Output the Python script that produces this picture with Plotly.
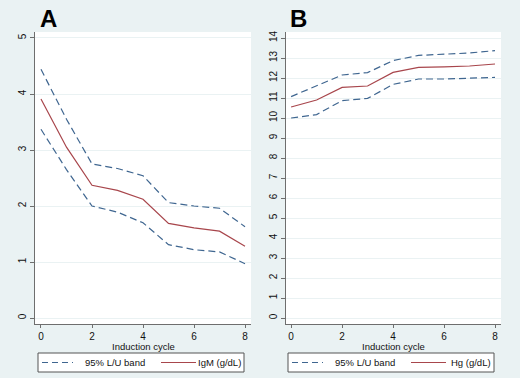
import plotly.graph_objects as go

cycles = [0, 1, 2, 3, 4, 5, 6, 7, 8]

igm_mean = [3.91, 3.05, 2.37, 2.28, 2.12, 1.69, 1.61, 1.55, 1.28]
igm_upper = [4.44, 3.55, 2.75, 2.67, 2.54, 2.06, 2.00, 1.96, 1.63]
igm_lower = [3.37, 2.65, 2.00, 1.89, 1.70, 1.31, 1.22, 1.18, 0.97]

hg_mean = [10.55, 10.90, 11.53, 11.60, 12.28, 12.53, 12.56, 12.60, 12.70]
hg_upper = [11.07, 11.60, 12.15, 12.27, 12.87, 13.13, 13.20, 13.25, 13.37]
hg_lower = [10.00, 10.17, 10.87, 10.98, 11.68, 11.95, 11.95, 11.98, 12.03]

x_ticks = [0, 2, 4, 6, 8]
ya_ticks = [0, 1, 2, 3, 4, 5]
yb_ticks = list(range(0, 15))

band_label = "95% L/U band"
igm_label = "IgM (g/dL)"
hg_label = "Hg (g/dL)"
panel_titles = ["A", "B"]
x_title = "Induction cycle"

BG = "#EAF2F3"
DASH_C = "#3F6690"
RED_C = "#A8464C"
AX_C = "#6E6E6E"
FONT = "Liberation Sans, Arial, sans-serif"
W, H = 520, 378

fig = go.Figure()

def add_panel(lower, upper, mean, mlabel, xa, ya):
    fig.add_trace(go.Scatter(x=cycles, y=lower, mode="lines", name=band_label,
                             line=dict(color=DASH_C, width=1.2, dash="7px,4px"),
                             xaxis=xa, yaxis=ya, showlegend=False))
    fig.add_trace(go.Scatter(x=cycles, y=mean, mode="lines", name=mlabel,
                             line=dict(color=RED_C, width=1.2),
                             xaxis=xa, yaxis=ya, showlegend=False))
    fig.add_trace(go.Scatter(x=cycles, y=upper, mode="lines", name=band_label,
                             line=dict(color=DASH_C, width=1.2, dash="7px,4px"),
                             xaxis=xa, yaxis=ya, showlegend=False))

add_panel(igm_lower, igm_upper, igm_mean, igm_label, "x", "y")
add_panel(hg_lower, hg_upper, hg_mean, hg_label, "x2", "y2")

ydom = [1 - 324 / H, 1 - 32 / H]

def xaxis(dom, rng):
    return dict(domain=dom, range=rng, tickvals=x_ticks, showgrid=False, zeroline=False,
                showline=True, linecolor=AX_C, linewidth=1, ticks="outside", ticklen=3,
                tickcolor=AX_C, tickfont=dict(size=10, color="#111", family=FONT),
                automargin=False, fixedrange=True)

def yaxis(anchor, rng, tv):
    return dict(domain=ydom, range=rng, tickvals=tv, showgrid=True, gridcolor=BG, gridwidth=1,
                zeroline=False, showline=True, linecolor=AX_C, linewidth=1, ticks="outside",
                ticklen=4, tickcolor=AX_C, tickangle=-90, anchor=anchor, automargin=False,
                tickfont=dict(size=10, color="#111", family=FONT), fixedrange=True)

fig.update_layout(
    width=W, height=H,
    margin=dict(l=0, r=0, t=0, b=0, autoexpand=False),
    paper_bgcolor=BG, plot_bgcolor="white",
    font=dict(family=FONT, color="#111"),
    xaxis=dict(xaxis([35 / W, 251 / W], [-0.235, 8.235]), anchor="y"),
    yaxis=yaxis("x", [-0.107, 5.107], ya_ticks),
    xaxis2=dict(xaxis([286 / W, 501 / W], [-0.2, 8.235]), anchor="y2"),
    yaxis2=yaxis("x2", [-0.3, 14.3], yb_ticks),
    showlegend=False,
)

for title, xp in zip(panel_titles, [38 / W, 288 / W]):
    fig.add_annotation(text="<b>%s</b>" % title, xref="paper", yref="paper", x=xp, y=1 - 18 / H,
                       xanchor="left", yanchor="middle", showarrow=False,
                       font=dict(size=24, family=FONT, color="black"))

for xc in [(41 + 245) / 2 / W, (291 + 495) / 2 / W]:
    fig.add_annotation(text=x_title, xref="paper", yref="paper", x=xc, y=1 - 346.5 / H,
                       xanchor="center", yanchor="middle", showarrow=False,
                       font=dict(size=9.5, family=FONT, color="#111"))

# Legends (one per panel), drawn as a box with key samples and labels
def px(x):
    return x / W

def py(y):
    return 1 - y / H

for off, mlabel in [(0, igm_label), (250, hg_label)]:
    fig.add_shape(type="rect", xref="paper", yref="paper",
                  x0=px(38 + off), x1=px(244 + off), y0=py(372), y1=py(353),
                  line=dict(color="#555", width=1), fillcolor="white", layer="above")
    ly = py(362.5)
    fig.add_shape(type="line", xref="paper", yref="paper",
                  x0=px(42 + off), x1=px(73 + off), y0=ly, y1=ly,
                  line=dict(color=DASH_C, width=1.2, dash="6px,4px"))
    fig.add_shape(type="line", xref="paper", yref="paper",
                  x0=px(161 + off), x1=px(196 + off), y0=ly, y1=ly,
                  line=dict(color=RED_C, width=1.2))
    fig.add_annotation(text=band_label, xref="paper", yref="paper", x=px(83 + off), y=ly,
                       xanchor="left", yanchor="middle", showarrow=False,
                       font=dict(size=9.5, family=FONT, color="#111"))
    fig.add_annotation(text=mlabel, xref="paper", yref="paper", x=px(243 + off), y=ly,
                       xanchor="right", yanchor="middle", showarrow=False,
                       font=dict(size=9.5, family=FONT, color="#111"))

fig.write_html("out.html", config={"displayModeBar": False},
               post_script="document.body.style.margin='0';document.body.style.overflow='hidden';")
